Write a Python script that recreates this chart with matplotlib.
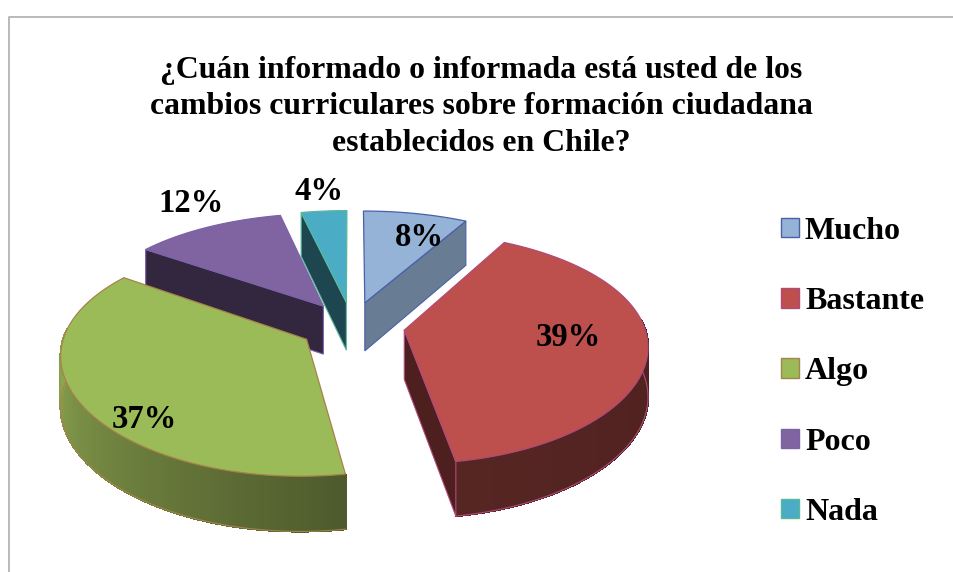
import numpy as np
import matplotlib
matplotlib.use('Agg')
import matplotlib.pyplot as plt
from matplotlib.colors import to_rgb
from matplotlib.patches import Patch, Polygon

plt.rcParams['font.family'] = ['Liberation Serif', 'DejaVu Serif']

categorias = ['Mucho', 'Bastante', 'Algo', 'Poco', 'Nada']
valores = [8, 39.4, 37.4, 11.7, 3.5]
etiquetas = ['8%', '39%', '37%', '12%', '4%']
titulo = '¿Cuán informado o informada está usted de los\ncambios curriculares sobre formación ciudadana\nestablecidos en Chile?'

colores = ['#95b3d7', '#bd4f4c', '#9bbb59', '#8064a2', '#4bacc6']
bordes = ['#4a5fa8', '#b04a78', '#a8824a', '#7a62a8', '#5ab89a']
caras = ['#687c94', '#4e1f1f', '#5a6e33', '#33263f', '#1d4650']
# color del borde curvo al inicio y al final de cada porcion
curva_ini = ['#687c94', '#481c1c', '#4e5a2c', '#33263f', '#1d4650']
curva_fin = ['#687c94', '#562623', '#a0be5c', '#33263f', '#1d4650']

# proyeccion (pixeles de la imagen)
cx, cy = 352, 326
A, B = 240, 112
kx, ky, kz = 0.12, 0.15, 0.1
expl = 0.22
alto = 49

# posicion de las etiquetas
pos_etiq = [(419, 237), (568, 337), (144, 419), (191, 203), (319, 191)]


def proy(u, v, z=0):
    x = cx + A * u / (1 + kx * v)
    y = cy - B * v / (1 + ky * v) + z * alto / (1 + kz * v)
    return np.column_stack([x, y])


fig = plt.figure(figsize=(9.54, 5.72), dpi=100)
ax = fig.add_axes([0, 0, 1, 1])
ax.set_xlim(0, 954)
ax.set_ylim(572, 0)
ax.axis('off')

# marco
ax.plot([9, 9, 954], [572, 17, 17], color='#b4b4b4', lw=1.3)

fr = np.array(valores) / sum(valores) * 2 * np.pi
fin = np.cumsum(fr)
ini = fin - fr
medio = (ini + fin) / 2

orden = 2
for i in np.argsort(-np.cos(medio)):
    du, dv = expl * np.sin(medio[i]), expl * np.cos(medio[i])
    t = np.linspace(ini[i], fin[i], int(np.degrees(fr[i])) + 2)
    u = du + np.sin(t)
    v = dv + np.cos(t)
    borde = bordes[i]

    # borde curvo por tramos para el degradado, solo lo que mira al frente
    c0, c1 = np.array(to_rgb(curva_ini[i])), np.array(to_rgb(curva_fin[i]))
    arr = proy(u, v)
    aba = proy(u, v, 1)
    vis = np.cos(t) < 0.1
    for j in range(len(t) - 1):
        if vis[j] and vis[j + 1]:
            col = c0 + (c1 - c0) * j / (len(t) - 2)
            tramo = [arr[j], arr[j + 1], aba[j + 1], aba[j]]
            ax.add_patch(Polygon(tramo, facecolor=col, edgecolor=col, lw=1, antialiased=False, zorder=orden))
    if vis.any():
        ax.plot(aba[vis, 0], aba[vis, 1], color=borde, lw=0.8, zorder=orden + 0.1)

    # caras planas visibles
    for k, ve in [(0, np.sin(ini[i]) < -0.01), (-1, np.sin(fin[i]) > 0.01)]:
        if ve:
            uu = np.array([du, u[k]])
            vv = np.array([dv, v[k]])
            cara = np.vstack([proy(uu, vv), proy(uu, vv, 1)[::-1]])
            ax.add_patch(Polygon(cara, facecolor=caras[i], edgecolor=borde, lw=0.8, zorder=orden + 0.2))

    # cara superior
    sup = np.vstack([proy(np.array([du]), np.array([dv])), arr])
    ax.add_patch(Polygon(sup, facecolor=colores[i], edgecolor=borde, lw=0.9, zorder=orden + 0.5))
    orden += 1

for e, p in zip(etiquetas, pos_etiq):
    ax.text(p[0], p[1], e, fontsize=23.5, fontweight='bold', ha='center', va='center', color='k', zorder=20)

ax.text(481, 107, titulo, fontsize=22.9, fontweight='bold', ha='center', va='center',
        linespacing=1.34, color='k', zorder=20)

handles = [Patch(facecolor=c, edgecolor=b, lw=1) for c, b in zip(colores, bordes)]
ax.legend(handles, categorias, loc='upper left', bbox_to_anchor=(781, 217),
          bbox_transform=ax.transData, frameon=False, borderpad=0, borderaxespad=0,
          prop={'size': 23, 'weight': 'bold'}, handlelength=0.55, handleheight=0.55,
          handletextpad=0.2, labelspacing=1.29)

fig.savefig('out.png', dpi=100)
